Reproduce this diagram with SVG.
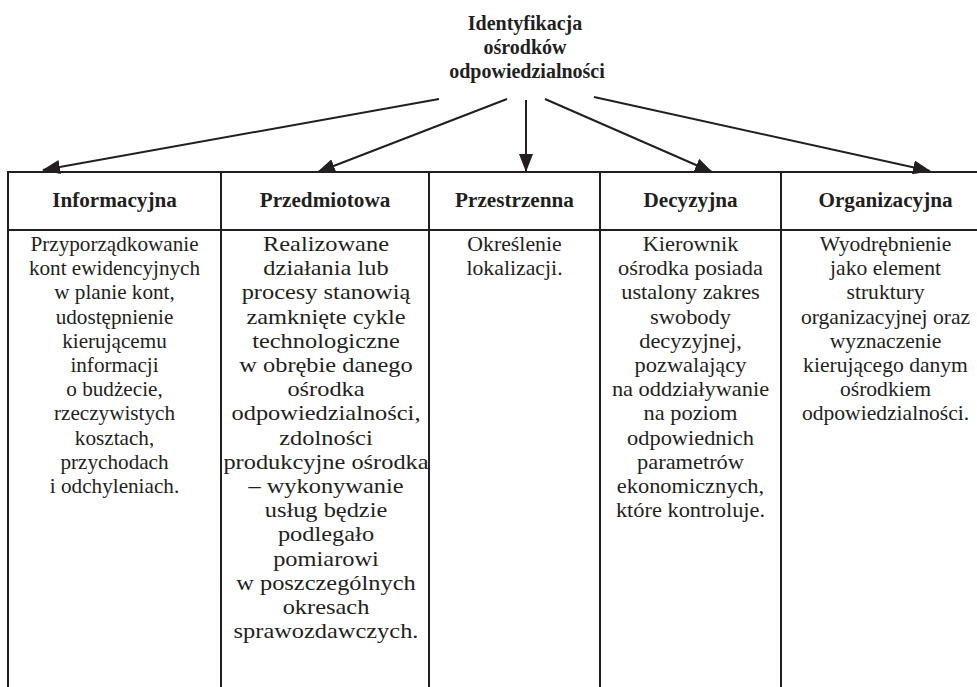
<svg xmlns="http://www.w3.org/2000/svg" width="977" height="687" viewBox="0 0 977 687">
<style>
.t{font-family:"Liberation Serif","Times New Roman",serif;font-size:20px;fill:#231f20;text-anchor:middle}
.b{font-weight:bold}
.ln{stroke:#231f20;stroke-width:2;fill:none}
</style>
<defs>
<marker id="ah" markerUnits="userSpaceOnUse" markerWidth="18" markerHeight="14" refX="17" refY="7" orient="auto">
<path d="M0,0 L18,7 L0,14 Z" fill="#231f20"/>
</marker>
</defs>
<rect width="977" height="687" fill="#fff"/>
<g id="title">
<text class="t b" x="525" y="30">Identyfikacja</text>
<text class="t b" x="525" y="54">ośrodków</text>
<text class="t b" x="527" y="78">odpowiedzialności</text>
</g>
<g id="connectors">
<line class="ln" x1="439" y1="99" x2="43" y2="170" marker-end="url(#ah)"/>
<line class="ln" x1="507" y1="99" x2="318" y2="172" marker-end="url(#ah)"/>
<line class="ln" x1="526" y1="100" x2="526" y2="171" marker-end="url(#ah)"/>
<line class="ln" x1="545" y1="99" x2="712" y2="172" marker-end="url(#ah)"/>
<line class="ln" x1="594" y1="97" x2="930" y2="171" marker-end="url(#ah)"/>
</g>
<g id="table">
<line class="ln" x1="7" y1="172" x2="977" y2="172"/>
<line class="ln" x1="7" y1="230" x2="977" y2="230"/>
<line class="ln" x1="8" y1="171" x2="8" y2="687"/>
<line class="ln" x1="221" y1="171" x2="221" y2="687"/>
<line class="ln" x1="429" y1="171" x2="429" y2="687"/>
<line class="ln" x1="600" y1="171" x2="600" y2="687"/>
<line class="ln" x1="781" y1="171" x2="781" y2="687"/>
</g>
<g id="col-informacyjna">
<g transform="translate(114.5,0) scale(1.06,1)">
<text class="t b" x="0" y="207">Informacyjna</text>
</g>
<g transform="translate(114.5,0) scale(1.06,1)">
<text class="t" x="0" y="251">Przyporządkowanie</text>
<text class="t" x="0" y="275.2">kont ewidencyjnych</text>
<text class="t" x="0" y="299.4">w planie kont,</text>
<text class="t" x="0" y="323.6">udostępnienie</text>
<text class="t" x="0" y="347.8">kierującemu</text>
<text class="t" x="0" y="372">informacji</text>
<text class="t" x="0" y="396.2">o budżecie,</text>
<text class="t" x="0" y="420.4">rzeczywistych</text>
<text class="t" x="0" y="444.6">kosztach,</text>
<text class="t" x="0" y="468.8">przychodach</text>
<text class="t" x="0" y="493">i odchyleniach.</text>
</g>
</g>
<g id="col-przedmiotowa">
<g transform="translate(325,0) scale(1.06,1)">
<text class="t b" x="0" y="207">Przedmiotowa</text>
</g>
<g transform="translate(326,0) scale(1.22,1)">
<text class="t" x="0" y="251">Realizowane</text>
<text class="t" x="0" y="275.2">działania lub</text>
<text class="t" x="0" y="299.4">procesy stanowią</text>
<text class="t" x="0" y="323.6">zamknięte cykle</text>
<text class="t" x="0" y="347.8">technologiczne</text>
<text class="t" x="0" y="372">w obrębie danego</text>
<text class="t" x="0" y="396.2">ośrodka</text>
<text class="t" x="0" y="420.4">odpowiedzialności,</text>
<text class="t" x="0" y="444.6">zdolności</text>
<text class="t" x="0" y="468.8">produkcyjne ośrodka</text>
<text class="t" x="0" y="493">– wykonywanie</text>
<text class="t" x="0" y="517.2">usług będzie</text>
<text class="t" x="0" y="541.4">podlegało</text>
<text class="t" x="0" y="565.6">pomiarowi</text>
<text class="t" x="0" y="589.8">w poszczególnych</text>
<text class="t" x="0" y="614">okresach</text>
<text class="t" x="0" y="638.2">sprawozdawczych.</text>
</g>
</g>
<g id="col-przestrzenna">
<g transform="translate(514.5,0) scale(1.06,1)">
<text class="t b" x="0" y="207">Przestrzenna</text>
</g>
<g transform="translate(514.5,0) scale(1.09,1)">
<text class="t" x="0" y="251">Określenie</text>
<text class="t" x="0" y="275.2">lokalizacji.</text>
</g>
</g>
<g id="col-decyzyjna">
<g transform="translate(690.5,0) scale(1.06,1)">
<text class="t b" x="0" y="207">Decyzyjna</text>
</g>
<g transform="translate(690.5,0) scale(1.12,1)">
<text class="t" x="0" y="251">Kierownik</text>
<text class="t" x="0" y="275.2">ośrodka posiada</text>
<text class="t" x="0" y="299.4">ustalony zakres</text>
<text class="t" x="0" y="323.6">swobody</text>
<text class="t" x="0" y="347.8">decyzyjnej,</text>
<text class="t" x="0" y="372">pozwalający</text>
<text class="t" x="0" y="396.2">na oddziaływanie</text>
<text class="t" x="0" y="420.4">na poziom</text>
<text class="t" x="0" y="444.6">odpowiednich</text>
<text class="t" x="0" y="468.8">parametrów</text>
<text class="t" x="0" y="493">ekonomicznych,</text>
<text class="t" x="0" y="517.2">które kontroluje.</text>
</g>
</g>
<g id="col-organizacyjna">
<g transform="translate(885.5,0) scale(1.06,1)">
<text class="t b" x="0" y="207">Organizacyjna</text>
</g>
<g transform="translate(885.5,0) scale(1.08,1)">
<text class="t" x="0" y="251">Wyodrębnienie</text>
<text class="t" x="0" y="275.2">jako element</text>
<text class="t" x="0" y="299.4">struktury</text>
<text class="t" x="0" y="323.6">organizacyjnej oraz</text>
<text class="t" x="0" y="347.8">wyznaczenie</text>
<text class="t" x="0" y="372">kierującego danym</text>
<text class="t" x="0" y="396.2">ośrodkiem</text>
<text class="t" x="0" y="420.4">odpowiedzialności.</text>
</g>
</g>
</svg>
